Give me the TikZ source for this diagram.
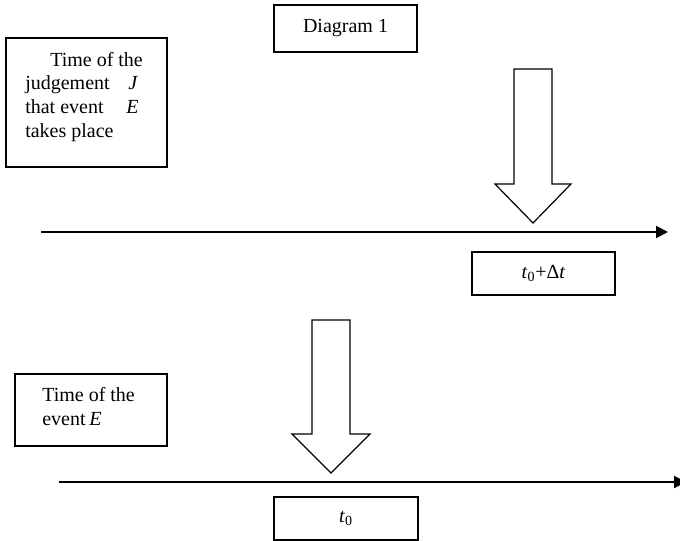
\documentclass[tikz,border=0pt]{standalone}
\usepackage{fontspec}
\setmainfont{Liberation Serif}
\usetikzlibrary{arrows.meta}
\begin{document}
\begin{tikzpicture}[x=0.75pt,y=-0.75pt,
  txt/.style={font=\fontsize{15}{17.5}\selectfont},
  box/.style={draw, line width=0.9pt, rectangle, inner sep=0pt, txt},
  lbl/.style={anchor=base west, inner sep=0pt, txt},
  blockarrow/.style={draw, line width=0.9pt, fill=white, line join=miter},
  axis/.style={line width=1.5pt, -{Triangle[length=9pt,width=9pt]}}]
\clip (0,0) rectangle (680,541);

% title
\node[box, minimum width=107.25pt, minimum height=35.25pt] (title) at (345.5,28.5) {Diagram 1};

% upper time line: the judgement
\node[box, minimum width=120.75pt, minimum height=96.75pt] (judgebox) at (86.5,102.5) {};
\node[lbl] (j1) at (50,67) {Time of the};
\node[lbl] (j2) at (25,90) {judgement};
\node[lbl] (j2v) at (128,90) {\textit{J}};
\node[lbl] (j3) at (25,114) {that event};
\node[lbl] (j3v) at (126,114) {\textit{E}};
\node[lbl] (j4) at (25,138) {takes place};

\draw[blockarrow] (514,69) -- (552,69) -- (552,184) -- (571,184) -- (533,223)
  -- (495,184) -- (514,184) -- cycle;

\coordinate (a1s) at (41,232);
\coordinate (a1e) at (668,232);
\draw[axis] (a1s) -- (a1e);

\node[box, minimum width=107.25pt, minimum height=32.25pt] (tjudge) at (543.5,273.5)
  {\textit{t}\textsubscript{0}+Δ\textit{t}};

% lower time line: the event
\node[box, minimum width=114pt, minimum height=54pt] (eventbox) at (91,410) {};
\node[lbl] (e1) at (42,401) {Time of the};
\node[lbl] (e2) at (42,425) {event};
\node[lbl] (e2v) at (89,425) {\textit{E}};

\draw[blockarrow] (312,320) -- (350,320) -- (350,434) -- (370,434) -- (331,473)
  -- (292,434) -- (312,434) -- cycle;

\coordinate (a2s) at (59,482);
\coordinate (a2e) at (686,482);
\draw[axis] (a2s) -- (a2e);

\node[box, minimum width=108pt, minimum height=32.25pt] (tevent) at (346,518.5)
  {\textit{t}\textsubscript{0}};
\end{tikzpicture}
\end{document}
